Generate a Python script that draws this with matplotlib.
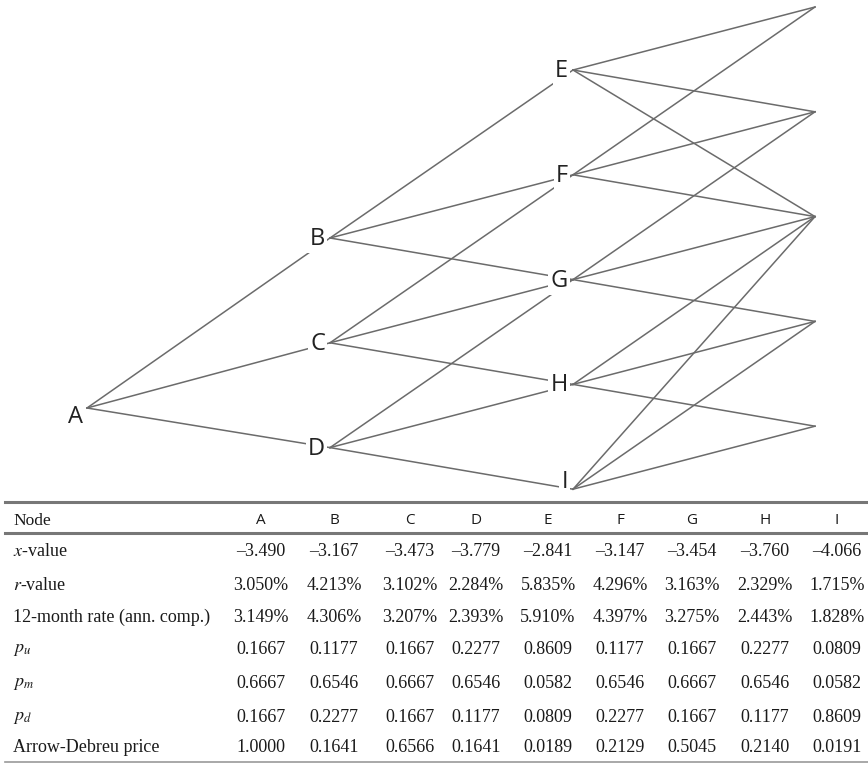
import matplotlib.pyplot as plt

plt.rcParams['mathtext.fontset'] = 'stix'

# tree nodes: name -> (step, level); level counts down from the top of each column
nodes = {'A': (0, 0), 'B': (1, 0), 'C': (1, 1), 'D': (1, 2),
         'E': (2, 0), 'F': (2, 1), 'G': (2, 2), 'H': (2, 3), 'I': (2, 4),
         'T1': (3, 0), 'T2': (3, 1), 'T3': (3, 2), 'T4': (3, 3), 'T5': (3, 4)}
edges = {'A': ['B', 'C', 'D'],
         'B': ['E', 'F', 'G'], 'C': ['F', 'G', 'H'], 'D': ['G', 'H', 'I'],
         'E': ['T1', 'T2', 'T3'], 'F': ['T1', 'T2', 'T3'], 'G': ['T2', 'T3', 'T4'],
         'H': ['T3', 'T4', 'T5'], 'I': ['T3', 'T4', 'T5']}

# table
col_names = ['A', 'B', 'C', 'D', 'E', 'F', 'G', 'H', 'I']
row_names = [r'$x$-value', r'$r$-value', '12-month rate (ann. comp.)',
             r'$p_u$', r'$p_m$', r'$p_d$', 'Arrow-Debreu price']
x_value = ['\u20133.490', '\u20133.167', '\u20133.473', '\u20133.779', '\u20132.841',
           '\u20133.147', '\u20133.454', '\u20133.760', '\u20134.066']
r_value = ['3.050%', '4.213%', '3.102%', '2.284%', '5.835%', '4.296%', '3.163%', '2.329%', '1.715%']
rate_12m = ['3.149%', '4.306%', '3.207%', '2.393%', '5.910%', '4.397%', '3.275%', '2.443%', '1.828%']
p_u = ['0.1667', '0.1177', '0.1667', '0.2277', '0.8609', '0.1177', '0.1667', '0.2277', '0.0809']
p_m = ['0.6667', '0.6546', '0.6667', '0.6546', '0.0582', '0.6546', '0.6667', '0.6546', '0.0582']
p_d = ['0.1667', '0.2277', '0.1667', '0.1177', '0.0809', '0.2277', '0.1667', '0.1177', '0.8609']
ad_price = ['1.0000', '0.1641', '0.6566', '0.1641', '0.0189', '0.2129', '0.5045', '0.2140', '0.0191']
rows = [x_value, r_value, rate_12m, p_u, p_m, p_d, ad_price]

# layout (pixels)
col_x = [87, 330, 573, 815]
col_top = [408, 238, 70, 7]
spacing = 104.8


def pos(name):
    t, j = nodes[name]
    return col_x[t], col_top[t] + j * spacing


fig = plt.figure(figsize=(8.68, 7.63), dpi=100)
ax = fig.add_axes([0, 0, 1, 1])
ax.set_xlim(0, 868)
ax.set_ylim(763, 0)
ax.axis('off')

line_col = '#6b6b6b'
for a, targets in edges.items():
    x0, y0 = pos(a)
    for b in targets:
        x1, y1 = pos(b)
        ax.plot([x0, x1], [y0, y1], color=line_col, lw=1.1, zorder=1)

for name in 'ABCDEFGHI':
    x, y = pos(name)
    if name == 'A':
        ax.text(x - 12, y + 9, name, ha='center', va='center', fontsize=17,
                family='Open Sans', color='#222222', zorder=3)
    else:
        dy = -8 if name == 'I' else 0
        ax.text(x - 5, y + dy + 1, name, ha='right', va='center', fontsize=17,
                family='Open Sans', color='#222222', zorder=3,
                bbox=dict(boxstyle='square,pad=0.1', fc='white', ec='none'))

# table
val_x = [261, 334, 410, 476, 548, 620, 692, 765, 837]
head_y = 521
row_y = [552, 585, 617, 650, 683, 717, 748]
txt_col = '#1a1a1a'

ax.plot([5, 868], [502, 502], color='#777777', lw=2.2)
ax.plot([5, 868], [533, 533], color='#777777', lw=2.2)
ax.plot([5, 868], [762, 762], color='#999999', lw=1.2)

ax.text(13, head_y, 'Node', ha='left', va='center', fontsize=12.5,
        family='Liberation Serif', color=txt_col)
for cx, c in zip(val_x, col_names):
    ax.text(cx, head_y, c, ha='center', va='center', fontsize=11,
            family='Open Sans', color=txt_col)

for ry, rname, vals in zip(row_y, row_names, rows):
    ax.text(13, ry, rname, ha='left', va='center', fontsize=13,
            family='Liberation Serif', color=txt_col)
    for cx, v in zip(val_x, vals):
        ax.text(cx, ry, v, ha='center', va='center', fontsize=13,
                family='Liberation Serif', color=txt_col)

fig.savefig('out.png', dpi=100, facecolor='white')
